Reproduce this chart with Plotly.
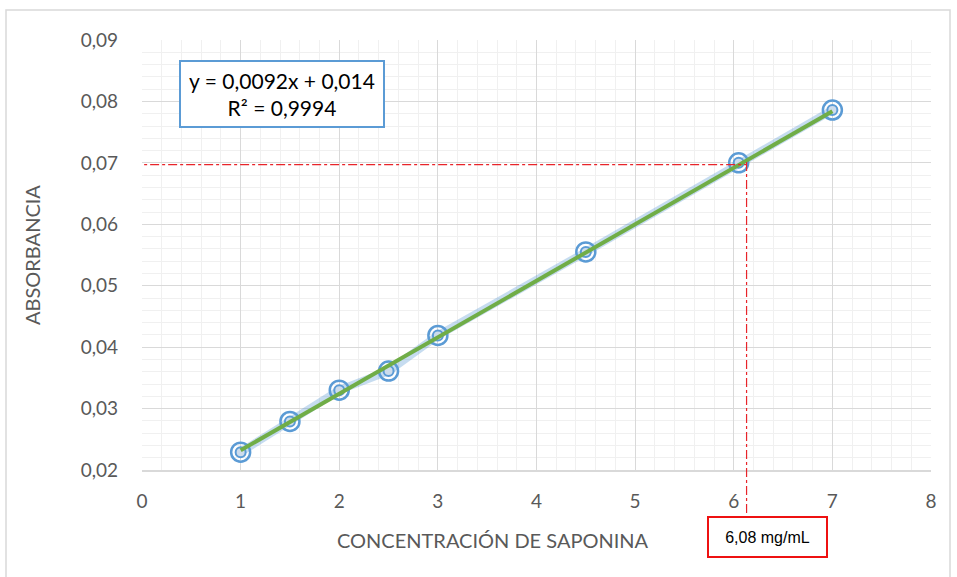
import plotly.graph_objects as go

# Data
concentration = [1, 1.5, 2, 2.5, 3, 4.5, 6.05, 7]
absorbance = [0.0229, 0.0279, 0.0330, 0.0361, 0.0419, 0.0555, 0.0700, 0.0786]
slope = 0.0092
intercept = 0.014
trend_x = [1, 7]
trend_y = [slope * v + intercept for v in trend_x]
read_y = 0.0697
read_x = 6.13
eq_text = "y = 0,0092x + 0,014<br>R² = 0,9994"
result_text = "6,08 mg/mL"
x_ticks = [0, 1, 2, 3, 4, 5, 6, 7, 8]
y_ticks = [0.02, 0.03, 0.04, 0.05, 0.06, 0.07, 0.08, 0.09]

FONT = "Lato"
L, T, PW, PH = 142, 40, 789, 430


def px(xp):
    return (xp - L) / PW


def py(yp):
    return (T + PH - yp) / PH


fig = go.Figure()

fig.add_trace(go.Scatter(x=concentration, y=absorbance, mode="lines",
                         line=dict(color="rgba(91,155,213,0.35)", width=8),
                         hoverinfo="skip", showlegend=False))
fig.add_trace(go.Scatter(x=concentration, y=absorbance, mode="markers",
                         marker=dict(symbol="circle-open", size=19, color="#5B9BD5",
                                     line=dict(width=2.5, color="#5B9BD5")),
                         showlegend=False))
fig.add_trace(go.Scatter(x=concentration, y=absorbance, mode="markers",
                         marker=dict(symbol="circle", size=10, color="#cddcec",
                                     line=dict(width=2, color="#5B9BD5")),
                         showlegend=False))
fig.add_trace(go.Scatter(x=trend_x, y=trend_y, mode="lines",
                         line=dict(color="#70AD47", width=4), showlegend=False))

# reference lines
fig.add_shape(type="line", xref="x", yref="y", x0=-0.1, x1=read_x, y0=read_y, y1=read_y,
              line=dict(color="#e8242a", width=1.2, dash="dashdot"))
fig.add_shape(type="line", xref="x", yref="paper", x0=read_x, x1=read_x,
              y0=py(162), y1=py(516),
              line=dict(color="#e8242a", width=1.2, dash="dashdot"))

# outer chart border
fig.add_shape(type="rect", xref="paper", yref="paper",
              x0=px(6), x1=px(950), y0=py(600), y1=py(10),
              line=dict(color="#d9d9d9", width=1.5), layer="below")

common = dict(xref="paper", yref="paper", xanchor="center", yanchor="middle", showarrow=False)
fig.add_annotation(x=px(282), y=py(94), text=eq_text, align="center",
                   font=dict(family=FONT, size=21, color="#000000"),
                   width=200, height=62, borderpad=1,
                   bgcolor="white", bordercolor="#5B9BD5", borderwidth=2, **common)
fig.add_annotation(x=px(767), y=py(537), text=result_text, align="center",
                   font=dict(family="Liberation Sans", size=16, color="#000000"),
                   width=117, height=38, borderpad=0,
                   bgcolor="white", bordercolor="#ee1111", borderwidth=2, **common)
fig.add_annotation(x=px(493), y=py(540), text="CONCENTRACIÓN DE SAPONINA",
                   font=dict(family=FONT, size=20, color="#595959"), **common)
fig.add_annotation(x=px(32), y=py(255), text="ABSORBANCIA", textangle=-90,
                   font=dict(family=FONT, size=20, color="#595959"), **common)

fig.update_xaxes(range=[0, 8], tickvals=x_ticks, showgrid=True, gridcolor="#d9d9d9",
                 gridwidth=1, zeroline=False, showline=True, linecolor="#d9d9d9", linewidth=1.5,
                 minor=dict(dtick=0.2, showgrid=True, gridcolor="#f0f0f0", gridwidth=1),
                 tickfont=dict(family=FONT, size=19, color="#595959"),
                 ticklabelstandoff=13)
fig.update_yaxes(range=[0.02, 0.09], tickvals=y_ticks, tickformat=".2f", showgrid=True,
                 gridcolor="#d9d9d9", gridwidth=1, zeroline=False, showline=False,
                 minor=dict(dtick=0.002, showgrid=True, gridcolor="#f0f0f0", gridwidth=1),
                 tickfont=dict(family=FONT, size=19, color="#595959"),
                 ticklabelstandoff=23)

fig.update_layout(width=957, height=577,
                  margin=dict(l=L, r=957 - L - PW, t=T, b=577 - T - PH),
                  plot_bgcolor="white", paper_bgcolor="white", separators=",.",
                  showlegend=False)

fig.write_html("out.html", config={"displayModeBar": False},
               post_script="document.body.style.margin='0';document.body.style.overflow='hidden';")
